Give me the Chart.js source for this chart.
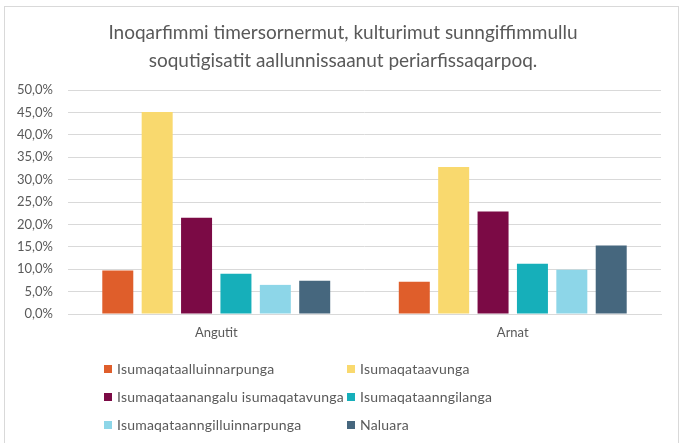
<!DOCTYPE html>
<html>
<head>
<meta charset="utf-8">
<script src="https://cdn.jsdelivr.net/npm/chart.js@4/dist/chart.umd.min.js"></script>
<style>
  html, body { margin: 0; padding: 0; background: #fff; }
  body { width: 686px; height: 443px; position: relative; overflow: hidden; font-family: Lato, "Open Sans", sans-serif; color: #595959; }
  #frame { position: absolute; left: 4px; top: 6px; width: 675px; height: 460px; border: 1px solid #d9d9d9; box-sizing: border-box; }
  #title { position: absolute; left: 0; width: 686px; top: 18px; text-align: center; font-size: 19px; line-height: 28px; color: #595959; }
  #wrap { position: absolute; left: 0; top: 0; width: 686px; height: 443px; }
  .leg { position: absolute; font-size: 14px; letter-spacing: 0.2px; color: #595959; white-space: nowrap; line-height: 16px; }
  .leg span.box { position: absolute; left: -13px; top: 4px; width: 8px; height: 8px; }
</style>
</head>
<body>
<div id="frame"></div>
<div id="wrap"><canvas id="c" width="686" height="443"></canvas></div>
<div id="title"></div>
<div id="legend"></div>
<script>
const titleLines = ["Inoqarfimmi timersornermut, kulturimut sunngiffimmullu", "soqutigisatit aallunnissaanut periarfissaqarpoq."];
const categories = ["Angutit", "Arnat"];
const seriesNames = ["Isumaqataalluinnarpunga", "Isumaqataavunga", "Isumaqataanangalu isumaqatavunga", "Isumaqataanngilanga", "Isumaqataanngilluinnarpunga", "Naluara"];
const seriesColors = ["#DF5E2B", "#F9D96E", "#7B0A45", "#16AFBA", "#8DD6E8", "#46677E"];
const isumaqataalluinnarpunga = [9.7, 7.2];
const isumaqataavunga = [45.1, 32.8];
const isumaqataanangalu = [21.5, 22.9];
const isumaqataanngilanga = [9.0, 11.2];
const isumaqataanngilluinnarpunga = [6.5, 9.9];
const naluara = [7.4, 15.3];
const seriesValues = [isumaqataalluinnarpunga, isumaqataavunga, isumaqataanangalu, isumaqataanngilanga, isumaqataanngilluinnarpunga, naluara];
const yTicks = { min: 0, max: 50, step: 5 };

document.getElementById('title').innerHTML = titleLines.join('<br>');

// HTML legend, two columns
const legPos = [[117, 361], [360, 361], [117, 389], [360, 389], [117, 417], [360, 417]];
const legend = document.getElementById('legend');
seriesNames.forEach((n, i) => {
  const d = document.createElement('div');
  d.className = 'leg';
  d.style.left = legPos[i][0] + 'px';
  d.style.top = legPos[i][1] + 'px';
  d.innerHTML = '<span class="box" style="background:' + seriesColors[i] + '"></span>' + n;
  legend.appendChild(d);
});

new Chart(document.getElementById('c'), {
  type: 'bar',
  data: {
    labels: categories,
    datasets: seriesNames.map((n, i) => ({
      label: n,
      data: seriesValues[i],
      backgroundColor: seriesColors[i],
      borderWidth: 0,
      barPercentage: 0.787,
      categoryPercentage: 0.797
    }))
  },
  options: {
    responsive: false,
    animation: false,
    devicePixelRatio: 1,
    layout: { padding: { left: 0, right: 25, top: 90, bottom: 99 } },
    plugins: { legend: { display: false }, title: { display: false }, tooltip: { enabled: false } },
    scales: {
      x: {
        grid: { display: false, drawTicks: false },
        border: { display: true, color: '#d9d9d9', width: 1 },
        ticks: { color: '#595959', font: { family: 'Lato', size: 13 }, padding: 11 },
        afterFit: s => { s.height = 30; }
      },
      y: {
        min: yTicks.min, max: yTicks.max,
        grid: { color: '#d9d9d9', lineWidth: 1, drawTicks: false },
        border: { display: false },
        ticks: {
          stepSize: yTicks.step,
          color: '#595959',
          font: { family: 'Lato', size: 13 },
          padding: 15,
          callback: v => v.toFixed(1).replace('.', ',') + '%'
        },
        afterFit: s => { s.width = 68; }
      }
    }
  }
});
</script>
</body>
</html>
